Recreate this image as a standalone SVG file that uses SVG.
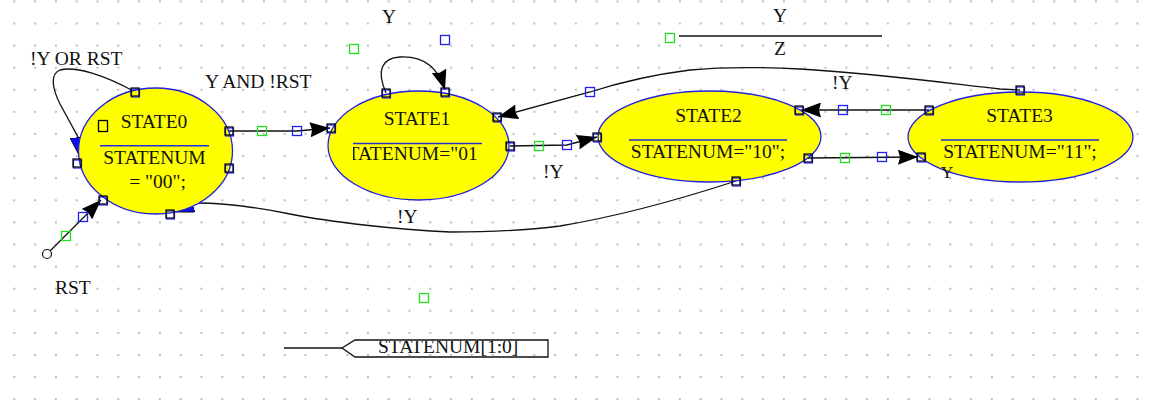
<svg xmlns="http://www.w3.org/2000/svg" width="1154" height="400" viewBox="0 0 1154 400">
<style>
text{font-family:"Liberation Serif","Times New Roman",serif;font-size:19.5px;fill:#111}
.mid{text-anchor:middle}
.st{fill:#ffff00;stroke:#2020e0;stroke-width:1.3}
.div{stroke:#2030d8;stroke-width:1.5}
.wire{fill:none;stroke:#111;stroke-width:1.3}
.hb{fill:none;stroke:#2020f0;stroke-width:1.3}
.hg{fill:none;stroke:#22e022;stroke-width:1.3}
</style>
<defs>
<pattern id="dots" x="13.3" y="22.5" width="20.8" height="22.1" patternUnits="userSpaceOnUse"><rect width="2" height="2" fill="#bdbdbd"/></pattern>
<marker id="ah" viewBox="0 0 20 15" refX="20" refY="7.5" markerWidth="20" markerHeight="15" markerUnits="userSpaceOnUse" orient="auto"><path d="M0,0 L20,7.5 L0,15 L2,7.5 Z" fill="#000"/></marker>
<marker id="ahb" viewBox="0 0 22 16" refX="22" refY="8" markerWidth="22" markerHeight="16" markerUnits="userSpaceOnUse" orient="auto"><path d="M0,0 L22,8 L0,16 Z" fill="#1010f0" stroke="#000" stroke-width="0.8"/></marker>
<g id="endsq"><rect x="-3.5" y="-3" width="8" height="8" fill="none" stroke="#2222ff" stroke-width="1.2"/><rect x="-4" y="-4" width="8" height="8" fill="none" stroke="#000" stroke-width="1.2"/></g>
<clipPath id="clip1"><rect x="353" y="140" width="129" height="30"/></clipPath>
<clipPath id="clipPort"><rect x="355" y="341" width="193" height="16"/></clipPath>
</defs>
<rect width="1154" height="400" fill="#fff"/>
<rect id="grid" width="1154" height="400" fill="url(#dots)"/>

<g id="connectors">
<path class="wire" d="M135,92 C105,75 75,66 60,70 C50,74 52,88 60,104 L78,137 L81,159" marker-end="url(#ahb)"/>
<path class="wire" d="M229,131 L297,131 L330,128" marker-end="url(#ah)"/>
<path class="wire" d="M386,93 C376,70 382,58 400,57 C420,56 437,64 445,90" marker-end="url(#ah)"/>
<path class="wire" d="M510,146 L567,145 L597,137" marker-end="url(#ah)"/>
<path class="wire" d="M1020,90 L1000,89 C930,81 870,73 800,69 C760,67 720,67 690,70 C650,75 615,84 590,92 L498,117" marker-end="url(#ah)"/>
<path class="wire" d="M929,110 L801,110" marker-end="url(#ah)"/>
<path class="wire" d="M808,158 L918,157" marker-end="url(#ah)"/>
<path class="wire" d="M736,181 C690,196 620,216 560,226 C520,231 480,232 450,232 C400,230 330,222 290,214 C255,207 225,203 197,203 L172,212" marker-end="url(#ahb)"/>
<path class="wire" d="M50,251 L101,200" marker-end="url(#ah)"/>
<circle cx="47" cy="254" r="4.5" fill="#fff" stroke="#111" stroke-width="1.2"/>
<line class="wire" x1="679" y1="36" x2="882" y2="36"/>
</g>

<g id="node-state0">
<ellipse class="st" cx="155.5" cy="151" rx="77" ry="63"/>
<rect x="98.5" y="120.5" width="9" height="11" fill="none" stroke="#000" stroke-width="1.3"/>
<text class="mid" x="154" y="128">STATE0</text>
<line class="div" x1="100" y1="145.7" x2="209" y2="145.7"/>
<text class="mid" x="154.5" y="164">STATENUM</text>
<text class="mid" x="157.5" y="188">= "00";</text>
</g>

<g id="node-state1">
<ellipse class="st" cx="418.5" cy="145.5" rx="90.5" ry="54.5"/>
<text class="mid" x="417" y="125">STATE1</text>
<line class="div" x1="353" y1="143.5" x2="482" y2="143.5"/>
<text x="347.6" y="160" clip-path="url(#clip1)">TATENUM="01</text>
</g>

<g id="node-state2">
<ellipse class="st" cx="709.5" cy="136.5" rx="111.5" ry="45.5"/>
<text class="mid" x="708.5" y="122">STATE2</text>
<line class="div" x1="629" y1="140" x2="787" y2="140"/>
<text class="mid" x="708" y="158">STATENUM="10";</text>
</g>

<g id="node-state3">
<ellipse class="st" cx="1020.5" cy="137" rx="112.5" ry="45"/>
<text class="mid" x="1019.5" y="122">STATE3</text>
<line class="div" x1="941" y1="140" x2="1099" y2="140"/>
<text class="mid" x="1020" y="158">STATENUM="11";</text>
<text x="941" y="178" style="font-size:17px">Y</text>
</g>

<g id="handles">
<use href="#endsq" x="135" y="92"/>
<use href="#endsq" x="77" y="163"/>
<use href="#endsq" x="229" y="131"/>
<use href="#endsq" x="229" y="168"/>
<use href="#endsq" x="103" y="200"/>
<use href="#endsq" x="170" y="214"/>
<use href="#endsq" x="331" y="128"/>
<use href="#endsq" x="386" y="93"/>
<use href="#endsq" x="445" y="92"/>
<use href="#endsq" x="497" y="117"/>
<use href="#endsq" x="510" y="146"/>
<use href="#endsq" x="597" y="137"/>
<use href="#endsq" x="799" y="110"/>
<use href="#endsq" x="808" y="158"/>
<use href="#endsq" x="736" y="181"/>
<use href="#endsq" x="929" y="110"/>
<use href="#endsq" x="921" y="157"/>
<use href="#endsq" x="1020" y="90"/>
<rect class="hb" x="292.5" y="126.5" width="9" height="9"/>
<rect class="hb" x="562.5" y="140.5" width="9" height="9"/>
<rect class="hb" x="838.5" y="105.5" width="9" height="9"/>
<rect class="hb" x="877.5" y="152.5" width="9" height="9"/>
<rect class="hb" x="585.5" y="87.5" width="9" height="9"/>
<rect class="hb" x="78.5" y="212.5" width="9" height="9"/>
<rect class="hb" x="440.5" y="35.5" width="9" height="9"/>
<rect class="hg" x="257.5" y="126.5" width="9" height="9"/>
<rect class="hg" x="534.5" y="141.5" width="9" height="9"/>
<rect class="hg" x="881.5" y="105.5" width="9" height="9"/>
<rect class="hg" x="840.5" y="153.5" width="9" height="9"/>
<rect class="hg" x="61.5" y="231.5" width="9" height="9"/>
<rect class="hg" x="349.5" y="44.5" width="9" height="9"/>
<rect class="hg" x="665.5" y="33.5" width="9" height="9"/>
<rect class="hg" x="419.5" y="293.5" width="9" height="9"/>
</g>

<g id="labels">
<text x="30" y="65">!Y OR RST</text>
<text x="205" y="88">Y AND !RST</text>
<text class="mid" x="389" y="23">Y</text>
<text x="543" y="178">!Y</text>
<text x="832" y="89">!Y</text>
<text class="mid" x="780" y="22">Y</text>
<text class="mid" x="780" y="55">Z</text>
<text x="397" y="223">!Y</text>
<text x="55" y="294">RST</text>
</g>

<g id="port-statenum">
<line class="wire" x1="284" y1="348" x2="342" y2="348"/>
<path class="wire" d="M342,348 L355,340 L548,340 L548,357 L355,357 Z"/>
<text x="378" y="352.5" clip-path="url(#clipPort)">STATENUM[1:0]</text>
</g>
</svg>
